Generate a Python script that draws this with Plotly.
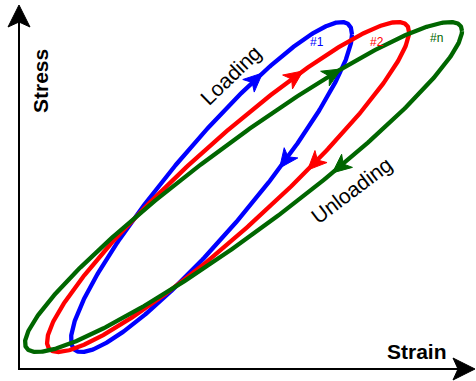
import numpy as np
import plotly.graph_objects as go

# ---- data (canvas units: 476 x 381, y pointing up) ----
loop_names = ["#1", "#2", "#n"]
loop_colors = ["#0000ff", "#ff0000", "#006600"]
center_strain = [211.5, 228.0, 243.5]
center_stress = [194.0, 194.0, 194.0]
half_width = [140.5, 181.0, 218.5]
half_height = [165.0, 165.0, 165.0]
phase_deg = [22.4, 20.2, 19.1]
loading_arrow_t = [68.7, 65.5, 63.4]      # parameter (deg) of loading arrow tips
unloading_arrow_t = [-61.0, -63.9, -66.0]  # parameter (deg) of unloading arrow tips

axis_origin = (19.0, 12.0)
axis_x_end = 475.0
axis_y_end = 376.0


def arrow_poly(px, py, dx, dy, L, hw, notch):
    n = np.hypot(dx, dy)
    dx, dy = dx / n, dy / n
    nx, ny = -dy, dx
    xs = [px, px - L * dx + hw * nx, px - notch * dx, px - L * dx - hw * nx, px]
    ys = [py, py - L * dy + hw * ny, py - notch * dy, py - L * dy - hw * ny, py]
    return xs, ys


fig = go.Figure()

t = np.linspace(0, 2 * np.pi, 600)
for i in range(3):
    cx, cy = center_strain[i], center_stress[i]
    W, H = half_width[i], half_height[i]
    ph = np.radians(phase_deg[i])
    x = cx + W * np.cos(t)
    y = cy + H * np.cos(t - ph)
    fig.add_trace(go.Scatter(x=x, y=y, mode="lines",
                             line=dict(color=loop_colors[i], width=4.3),
                             hoverinfo="skip"))
    for ta in (loading_arrow_t[i], unloading_arrow_t[i]):
        tr = np.radians(ta)
        px = cx + W * np.cos(tr)
        py = cy + H * np.cos(tr - ph)
        dx = W * np.sin(tr)
        dy = H * np.sin(tr - ph)
        ax, ay = arrow_poly(px, py, dx, dy, 19, 8.5, 14)
        fig.add_trace(go.Scatter(x=ax, y=ay, mode="lines", fill="toself",
                                 fillcolor=loop_colors[i],
                                 line=dict(color=loop_colors[i], width=1),
                                 hoverinfo="skip"))

# axes with arrowheads
ox, oy = axis_origin
fig.add_trace(go.Scatter(x=[ox, ox, axis_x_end - 15], y=[axis_y_end - 15, oy, oy],
                         mode="lines", line=dict(color="black", width=2),
                         hoverinfo="skip"))
for (px, py, dx, dy) in [(ox, axis_y_end, 0, 1), (axis_x_end, oy, 1, 0)]:
    ax, ay = arrow_poly(px, py, dx, dy, 22, 11, 17)
    fig.add_trace(go.Scatter(x=ax, y=ay, mode="lines", fill="toself",
                             fillcolor="black", line=dict(color="black", width=1),
                             hoverinfo="skip"))

font = "Liberation Sans, Arial, sans-serif"
ann = [
    dict(x=40, y=300, text="<b>Stress</b>", textangle=-90, size=21, color="black"),
    dict(x=417, y=30, text="<b>Strain</b>", textangle=0, size=21, color="black"),
    dict(x=230, y=306, text="Loading", textangle=-44, size=21, color="black"),
    dict(x=351, y=191, text="Unloading", textangle=-37, size=21, color="black"),
    dict(x=317, y=339, text=loop_names[0], textangle=0, size=12, color=loop_colors[0]),
    dict(x=377, y=339, text=loop_names[1], textangle=0, size=12, color=loop_colors[1]),
    dict(x=436, y=343, text=loop_names[2], textangle=0, size=12, color=loop_colors[2]),
]
for a in ann:
    fig.add_annotation(x=a["x"], y=a["y"], text=a["text"], textangle=a["textangle"],
                       showarrow=False, xanchor="center", yanchor="middle",
                       font=dict(family=font, size=a["size"], color=a["color"]))

fig.update_layout(
    width=476, height=381,
    margin=dict(l=0, r=0, t=0, b=0),
    paper_bgcolor="white", plot_bgcolor="white",
    showlegend=False,
    xaxis=dict(range=[0, 476], visible=False, fixedrange=True),
    yaxis=dict(range=[0, 381], visible=False, fixedrange=True),
)

fig.write_html("out.html", config={"displayModeBar": False, "staticPlot": True},
               post_script="document.body.style.margin='0';")
